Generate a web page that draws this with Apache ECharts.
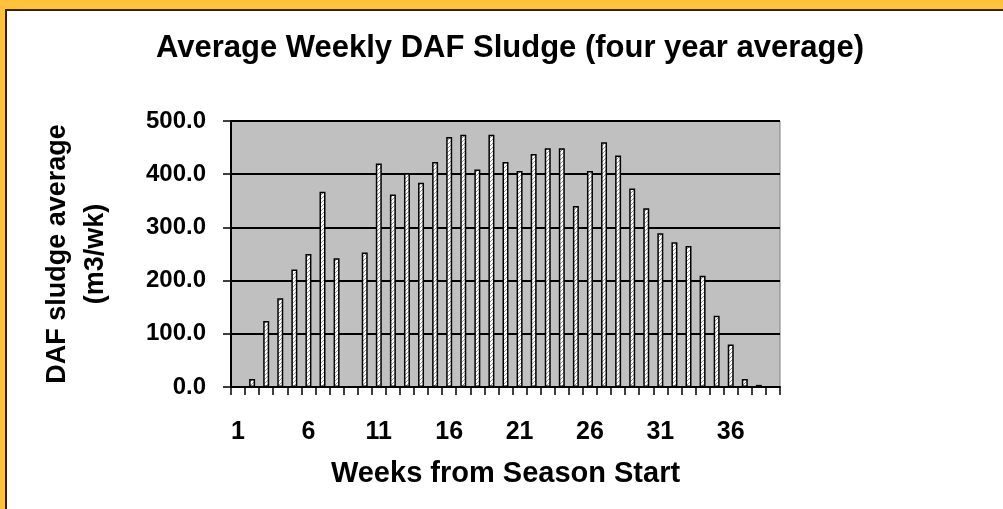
<!DOCTYPE html>
<html>
<head>
<meta charset="utf-8">
<script src="https://cdn.jsdelivr.net/npm/echarts@6/dist/echarts.min.js"></script>
<style>
  html, body { margin: 0; padding: 0; background: #fff; }
  #chart { width: 1003px; height: 509px; }
</style>
</head>
<body>
<div id="chart"></div>
<script>
// weeks from season start
const weeks = [];
for (let i = 1; i <= 39; i++) weeks.push(String(i));

// average DAF sludge, m3/wk
const sludge = [
  0, 15, 124, 167, 221, 250, 367, 242, 0, 253,
  420, 362, 402, 384, 423, 470, 474, 409, 474, 423,
  406, 438, 449, 449, 340, 406, 460, 435, 373, 336,
  289, 272, 265, 209, 134, 80, 15, 4, 0
];

const yTicks = [0, 100, 200, 300, 400, 500];

const font = '"Liberation Sans", Arial, sans-serif';

// little diagonal hatch used as the bar fill
function hatch() {
  const c = document.createElement('canvas');
  c.width = 4;
  c.height = 4;
  const ctx = c.getContext('2d');
  ctx.fillStyle = '#ffffff';
  ctx.fillRect(0, 0, 4, 4);
  ctx.fillStyle = '#8888ee';
  for (let i = 0; i < 4; i++) ctx.fillRect(i, 3 - i, 1, 1);
  return c;
}

const chart = echarts.init(document.getElementById('chart'));

chart.setOption({
  backgroundColor: '#ffffff',
  animation: false,
  title: {
    text: 'Average Weekly DAF Sludge (four year average)',
    left: 505,
    top: 28,
    textAlign: 'center',
    textStyle: { fontFamily: font, fontWeight: 'bold', fontSize: 31, color: '#000' }
  },
  graphic: [
    { type: 'rect', shape: { x: 0, y: 0, width: 1003, height: 9 }, style: { fill: '#ffc23a' } },
    { type: 'rect', shape: { x: 0, y: 0, width: 5, height: 509 }, style: { fill: '#ffc23a' } },
    { type: 'rect', shape: { x: 5, y: 9, width: 998, height: 2 }, style: { fill: '#222' } },
    { type: 'rect', shape: { x: 5, y: 9, width: 2, height: 500 }, style: { fill: '#222' } }
  ],
  grid: {
    left: 231,
    top: 121,
    right: 223,
    bottom: 122,
    show: true,
    backgroundColor: '#c0c0c0',
    borderColor: '#808080',
    borderWidth: 1
  },
  xAxis: {
    type: 'category',
    data: weeks,
    boundaryGap: true,
    name: 'Weeks from Season Start',
    nameLocation: 'middle',
    nameGap: 72,
    nameTextStyle: { fontFamily: font, fontWeight: 'bold', fontSize: 29, color: '#000' },
    axisLine: { lineStyle: { color: '#000', width: 2 } },
    axisTick: { show: true, interval: 0, length: 8, lineStyle: { color: '#000', width: 1.5 } },
    axisLabel: {
      interval: 4,
      margin: 33,
      fontFamily: font,
      fontWeight: 'bold',
      fontSize: 25,
      color: '#000'
    }
  },
  yAxis: {
    type: 'value',
    min: yTicks[0],
    max: yTicks[yTicks.length - 1],
    interval: 100,
    name: 'DAF sludge average\n(m3/wk)',
    nameLocation: 'middle',
    nameRotate: 90,
    nameGap: 116,
    nameTextStyle: { fontFamily: font, fontWeight: 'bold', fontSize: 27, lineHeight: 38, color: '#000' },
    axisLine: { show: true, lineStyle: { color: '#000', width: 2 } },
    axisTick: { show: true, length: 8, lineStyle: { color: '#000', width: 1.5 } },
    splitLine: { show: true, lineStyle: { color: '#000', width: 2 } },
    axisLabel: {
      margin: 25,
      padding: [6, 0, 0, 0],
      fontFamily: font,
      fontWeight: 'bold',
      fontSize: 24,
      color: '#000',
      formatter: v => v.toFixed(1)
    }
  },
  series: [{
    type: 'bar',
    data: sludge,
    barWidth: 6,
    itemStyle: {
      color: { image: hatch(), repeat: 'repeat' },
      borderColor: '#000',
      borderWidth: 1.5
    }
  }]
});
</script>
</body>
</html>
